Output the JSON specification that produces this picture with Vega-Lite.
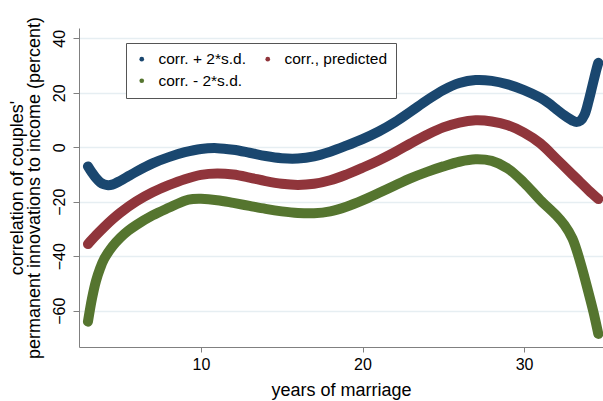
{
"$schema":"https://vega.github.io/schema/vega-lite/v6.json",
"width":524,"height":319,
"autosize":{"type":"none"},
"padding":{"left":79,"top":28,"right":0,"bottom":54},
"background":"white",
"config":{"view":{"stroke":null},"font":"Liberation Sans"},
"data":{"values":[
{"x":3,"s":"corr. + 2*s.d.","v":-7},{"x":3.25,"s":"corr. + 2*s.d.","v":-9.3},{"x":3.5,"s":"corr. + 2*s.d.","v":-11.3},{"x":3.75,"s":"corr. + 2*s.d.","v":-12.8},{"x":4,"s":"corr. + 2*s.d.","v":-13.6},{"x":4.25,"s":"corr. + 2*s.d.","v":-13.9},{"x":4.5,"s":"corr. + 2*s.d.","v":-13.7},{"x":5,"s":"corr. + 2*s.d.","v":-12.3},{"x":5.5,"s":"corr. + 2*s.d.","v":-10.6},{"x":6,"s":"corr. + 2*s.d.","v":-8.9},{"x":7,"s":"corr. + 2*s.d.","v":-5.9},{"x":8,"s":"corr. + 2*s.d.","v":-3.6},{"x":9,"s":"corr. + 2*s.d.","v":-1.8},{"x":10,"s":"corr. + 2*s.d.","v":-0.6},{"x":11,"s":"corr. + 2*s.d.","v":-0.3},{"x":12,"s":"corr. + 2*s.d.","v":-0.9},{"x":13,"s":"corr. + 2*s.d.","v":-2},{"x":14,"s":"corr. + 2*s.d.","v":-3.2},{"x":15,"s":"corr. + 2*s.d.","v":-4},{"x":16,"s":"corr. + 2*s.d.","v":-4.1},{"x":17,"s":"corr. + 2*s.d.","v":-3.3},{"x":18,"s":"corr. + 2*s.d.","v":-1.6},{"x":19,"s":"corr. + 2*s.d.","v":0.6},{"x":20,"s":"corr. + 2*s.d.","v":3},{"x":21,"s":"corr. + 2*s.d.","v":5.8},{"x":22,"s":"corr. + 2*s.d.","v":9.2},{"x":23,"s":"corr. + 2*s.d.","v":13.2},{"x":24,"s":"corr. + 2*s.d.","v":17.3},{"x":25,"s":"corr. + 2*s.d.","v":21},{"x":26,"s":"corr. + 2*s.d.","v":23.6},{"x":27,"s":"corr. + 2*s.d.","v":24.7},{"x":28,"s":"corr. + 2*s.d.","v":24.4},{"x":29,"s":"corr. + 2*s.d.","v":23.1},{"x":30,"s":"corr. + 2*s.d.","v":21},{"x":31,"s":"corr. + 2*s.d.","v":18.2},{"x":31.5,"s":"corr. + 2*s.d.","v":16.3},{"x":32,"s":"corr. + 2*s.d.","v":14},{"x":32.5,"s":"corr. + 2*s.d.","v":11.7},{"x":33,"s":"corr. + 2*s.d.","v":9.8},{"x":33.25,"s":"corr. + 2*s.d.","v":9.3},{"x":33.5,"s":"corr. + 2*s.d.","v":9.8},{"x":33.75,"s":"corr. + 2*s.d.","v":12},{"x":34,"s":"corr. + 2*s.d.","v":17},{"x":34.25,"s":"corr. + 2*s.d.","v":23},{"x":34.5,"s":"corr. + 2*s.d.","v":29},{"x":34.6,"s":"corr. + 2*s.d.","v":31},
{"x":3,"s":"corr., predicted","v":-35.5},{"x":3.5,"s":"corr., predicted","v":-32.3},{"x":4,"s":"corr., predicted","v":-29.3},{"x":4.5,"s":"corr., predicted","v":-26.5},{"x":5,"s":"corr., predicted","v":-24},{"x":6,"s":"corr., predicted","v":-19.8},{"x":7,"s":"corr., predicted","v":-16.5},{"x":8,"s":"corr., predicted","v":-13.9},{"x":9,"s":"corr., predicted","v":-11.7},{"x":10,"s":"corr., predicted","v":-10.1},{"x":11,"s":"corr., predicted","v":-9.6},{"x":12,"s":"corr., predicted","v":-10},{"x":13,"s":"corr., predicted","v":-11.1},{"x":14,"s":"corr., predicted","v":-12.4},{"x":15,"s":"corr., predicted","v":-13.4},{"x":16,"s":"corr., predicted","v":-13.8},{"x":17,"s":"corr., predicted","v":-13.4},{"x":18,"s":"corr., predicted","v":-12.1},{"x":19,"s":"corr., predicted","v":-10},{"x":20,"s":"corr., predicted","v":-7.5},{"x":21,"s":"corr., predicted","v":-4.8},{"x":22,"s":"corr., predicted","v":-1.8},{"x":23,"s":"corr., predicted","v":1.5},{"x":24,"s":"corr., predicted","v":4.6},{"x":25,"s":"corr., predicted","v":7.3},{"x":26,"s":"corr., predicted","v":9.1},{"x":27,"s":"corr., predicted","v":9.9},{"x":28,"s":"corr., predicted","v":9.5},{"x":29,"s":"corr., predicted","v":8.1},{"x":30,"s":"corr., predicted","v":5.4},{"x":31,"s":"corr., predicted","v":1.5},{"x":32,"s":"corr., predicted","v":-4.2},{"x":33,"s":"corr., predicted","v":-10},{"x":33.5,"s":"corr., predicted","v":-12.9},{"x":34,"s":"corr., predicted","v":-15.8},{"x":34.6,"s":"corr., predicted","v":-19},
{"x":3,"s":"corr. - 2*s.d.","v":-64},{"x":3.25,"s":"corr. - 2*s.d.","v":-55.5},{"x":3.5,"s":"corr. - 2*s.d.","v":-49},{"x":3.75,"s":"corr. - 2*s.d.","v":-44.5},{"x":4,"s":"corr. - 2*s.d.","v":-41},{"x":4.5,"s":"corr. - 2*s.d.","v":-36.5},{"x":5,"s":"corr. - 2*s.d.","v":-33.2},{"x":5.5,"s":"corr. - 2*s.d.","v":-30.6},{"x":6,"s":"corr. - 2*s.d.","v":-28.5},{"x":7,"s":"corr. - 2*s.d.","v":-25},{"x":8,"s":"corr. - 2*s.d.","v":-22.2},{"x":9,"s":"corr. - 2*s.d.","v":-19.6},{"x":9.5,"s":"corr. - 2*s.d.","v":-19},{"x":10,"s":"corr. - 2*s.d.","v":-18.9},{"x":11,"s":"corr. - 2*s.d.","v":-19.4},{"x":12,"s":"corr. - 2*s.d.","v":-20.4},{"x":13,"s":"corr. - 2*s.d.","v":-21.5},{"x":14,"s":"corr. - 2*s.d.","v":-22.6},{"x":15,"s":"corr. - 2*s.d.","v":-23.5},{"x":16,"s":"corr. - 2*s.d.","v":-24.1},{"x":17,"s":"corr. - 2*s.d.","v":-24.2},{"x":18,"s":"corr. - 2*s.d.","v":-23.5},{"x":19,"s":"corr. - 2*s.d.","v":-21.8},{"x":20,"s":"corr. - 2*s.d.","v":-19.5},{"x":21,"s":"corr. - 2*s.d.","v":-16.8},{"x":22,"s":"corr. - 2*s.d.","v":-14},{"x":23,"s":"corr. - 2*s.d.","v":-11.3},{"x":24,"s":"corr. - 2*s.d.","v":-9},{"x":25,"s":"corr. - 2*s.d.","v":-7},{"x":26,"s":"corr. - 2*s.d.","v":-5.3},{"x":27,"s":"corr. - 2*s.d.","v":-4.4},{"x":28,"s":"corr. - 2*s.d.","v":-5},{"x":29,"s":"corr. - 2*s.d.","v":-7.8},{"x":30,"s":"corr. - 2*s.d.","v":-13},{"x":31,"s":"corr. - 2*s.d.","v":-19.3},{"x":32,"s":"corr. - 2*s.d.","v":-25},{"x":32.5,"s":"corr. - 2*s.d.","v":-28.5},{"x":33,"s":"corr. - 2*s.d.","v":-33.5},{"x":33.5,"s":"corr. - 2*s.d.","v":-42.5},{"x":34,"s":"corr. - 2*s.d.","v":-53.5},{"x":34.3,"s":"corr. - 2*s.d.","v":-60.5},{"x":34.6,"s":"corr. - 2*s.d.","v":-68.5}
]},
"mark":{"type":"line","strokeWidth":10,"strokeCap":"round","strokeJoin":"round","interpolate":"catmull-rom"},
"encoding":{
"x":{"field":"x","type":"quantitative","scale":{"domain":[2.446,34.89],"nice":false,"zero":false},
"axis":{"values":[10,20,30],"grid":false,"title":"years of marriage","titleFontSize":18,"titleFontWeight":"normal","titleColor":"#000","titlePadding":9,"labelFontSize":16,"labelColor":"#000","labelPadding":4,"domainColor":"#808080","tickColor":"#808080","tickSize":5,"labelFlush":false}},
"y":{"field":"v","type":"quantitative","scale":{"domain":[-73.3,43.8],"nice":false,"zero":false},
"axis":{"values":[-60,-40,-20,0,20,40],"grid":true,"gridColor":"#e6eef2","gridWidth":1.5,"title":["correlation of couples'","permanent innovations to income (percent)"],"titleFontSize":18,"titleFontWeight":"normal","titleColor":"#000","titleLineHeight":17,"titlePadding":8,"labelFontSize":16,"labelColor":"#000","labelAngle":270,"labelAlign":"center","labelBaseline":"bottom","labelPadding":6,"domainColor":"#808080","tickColor":"#808080","tickSize":6,"labelFlush":false}},
"color":{"field":"s","type":"nominal","sort":["corr. + 2*s.d.","corr., predicted","corr. - 2*s.d."],
"scale":{"domain":["corr. + 2*s.d.","corr., predicted","corr. - 2*s.d."],"range":["#1a476f","#90353b","#55752f"]},
"legend":{"title":null,"orient":"none","legendX":47,"legendY":15,"direction":"horizontal","columns":2,"columnPadding":14,"rowPadding":5,"padding":8,"strokeColor":"#555","fillColor":"white","labelFontSize":15.5,"labelColor":"#000","symbolType":"circle","symbolSize":22,"symbolStrokeWidth":0,"labelOffset":9,
"encode":{"symbols":{"update":{"fill":{"scale":"color","field":"value"},"strokeWidth":{"value":0}}}}}}
}
}
